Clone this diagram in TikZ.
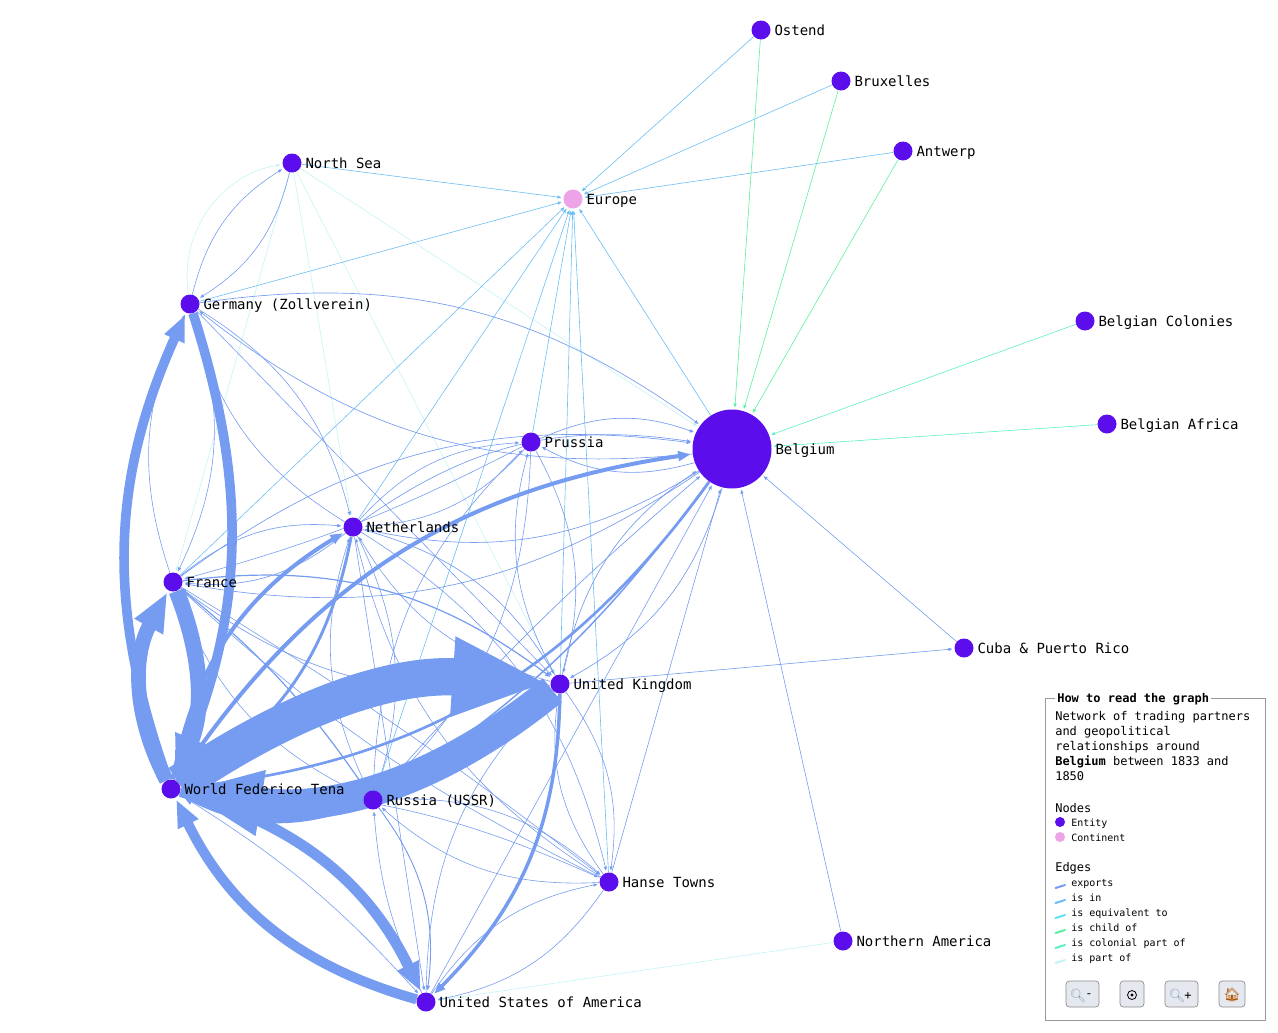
\documentclass[tikz,border=0pt]{standalone}
\usepackage{fontspec}
\setmonofont{DejaVu Sans Mono}
\newfontfamily\emojifont{Noto Emoji}
\usetikzlibrary{arrows.meta}
\pgfdeclarelayer{edges}
\pgfsetlayers{edges,main}
\definecolor{entityc}{HTML}{5B0EEB}
\definecolor{continentc}{HTML}{EDA3E8}
\definecolor{exportc}{HTML}{759CF0}
\definecolor{isinc}{HTML}{6BBEF5}
\definecolor{equivc}{HTML}{5CE5F0}
\definecolor{childc}{HTML}{5CF0A0}
\definecolor{colonialc}{HTML}{5CF0C8}
\definecolor{partc}{HTML}{C5F3F5}
\definecolor{buttonc}{HTML}{E6E8F0}
\definecolor{lensc}{HTML}{8FA5C0}
\tikzset{
  entity/.style={circle,fill=entityc,inner sep=0pt,minimum size=14.25pt},
  nametag/.style={font=\ttfamily\fontsize{10.5}{12}\selectfont,inner sep=0pt,anchor=west,xshift=2.6pt,text height=9.6pt,text depth=1pt},
  trade/.style={draw=#1,-{Triangle[length=1.8pt 2.5,width=1.5pt 1.9]},shorten >=1.5pt},
  legtext/.style={font=\ttfamily\fontsize{9}{11.25}\selectfont,inner sep=0pt,anchor=west},
  legsmall/.style={font=\ttfamily\fontsize{7.5}{9}\selectfont,inner sep=0pt,anchor=mid west},
  legbutton/.style={draw=black!45,fill=buttonc,rounded corners=2.5pt,line width=0.5pt}
}
\begin{document}
\begin{tikzpicture}[x=0.75pt,y=0.75pt,yscale=-1,xscale=1]
  \useasboundingbox (0,0) rectangle (1278,1032);
  % Entities
  \foreach \nm/\px/\py/\txt in {
    ostend/761/30/{Ostend}, bruxelles/841/81/{Bruxelles}, antwerp/903/151/{Antwerp},
    northsea/292/163/{North Sea}, germany/190/304/{Germany (Zollverein)},
    colonies/1085/321/{Belgian Colonies}, africa/1107/424/{Belgian Africa},
    prussia/531/442/{Prussia}, netherlands/353/527/{Netherlands}, france/173/582/{France},
    cuba/964/648/{Cuba \& Puerto Rico}, uk/560/684/{United Kingdom},
    world/171/789/{World Federico Tena}, russia/373/800/{Russia (USSR)},
    hanse/609/882/{Hanse Towns}, namerica/843/941/{Northern America},
    usa/426/1002/{United States of America}}
    {
      \node[entity] (\nm) at (\px,\py) {};
      \node[nametag] (\nm tag) at (\nm.east) {\txt};
    }
  \node[entity,fill=continentc] (europe) at (573,199) {};
  \node[nametag] (europetag) at (europe.east) {Europe};
  \node[entity,minimum size=59.25pt] (belgium) at (732,449) {};
  \node[nametag] (belgiumtag) at (belgium.east) {Belgium};

  \begin{pgfonlayer}{edges}
    % is part of
    \foreach \src/\dst/\bnd in {germany/northsea/45, northsea/france/0, northsea/netherlands/0,
      northsea/uk/0, northsea/belgium/0, namerica/usa/0}
      \draw[trade=partc,line width=0.45pt] (\src) to[bend right=\bnd] (\dst);
    % is in
    \foreach \src in {ostend, bruxelles, antwerp, northsea, germany, france, netherlands,
      prussia, belgium, uk, hanse, russia}
      \draw[trade=isinc,line width=0.45pt] (\src) to (europe);
    % is child of, is colonial part of
    \foreach \src in {ostend, bruxelles, antwerp}
      \draw[trade=childc,line width=0.45pt] (\src) to (belgium);
    \foreach \src in {colonies, africa}
      \draw[trade=colonialc,line width=0.45pt] (\src) to (belgium);
    % exports, thin
    \foreach \src/\dst/\bnd/\wd in {
      germany/belgium/22/0.5, belgium/germany/22/0.5, france/belgium/22/0.5, belgium/france/22/0.5,
      netherlands/belgium/22/0.5, belgium/netherlands/22/0.5, prussia/belgium/22/0.5, belgium/prussia/22/0.5,
      uk/belgium/22/0.5, belgium/uk/22/0.5, russia/belgium/4/0.5, belgium/russia/10/1.1,
      usa/belgium/0/0.45, hanse/belgium/0/0.45, cuba/belgium/0/0.45, namerica/belgium/0/0.45, uk/cuba/0/0.45,
      northsea/germany/22/0.45, germany/northsea/22/0.45, germany/netherlands/22/0.45, netherlands/germany/22/0.45,
      germany/uk/0/0.45, france/germany/22/0.45, germany/france/22/0.45,
      france/netherlands/22/0.5, netherlands/france/22/0.5, prussia/france/6/0.45, france/uk/22/0.9, uk/france/22/0.5,
      france/russia/8/0.9, russia/france/22/0.45, france/hanse/3/0.45, hanse/france/8/0.45,
      netherlands/prussia/22/0.45, prussia/netherlands/22/0.45, netherlands/uk/22/0.5, uk/netherlands/22/0.45,
      netherlands/hanse/22/0.45, hanse/netherlands/22/0.45, netherlands/russia/22/0.45, russia/netherlands/22/0.45,
      netherlands/usa/0/0.45, prussia/uk/22/0.45, uk/prussia/22/0.45, prussia/russia/22/0.45, russia/prussia/22/0.45,
      russia/usa/22/0.7, usa/russia/10/0.45, russia/hanse/22/0.45, hanse/russia/22/0.45,
      uk/hanse/22/0.45, hanse/uk/22/0.45, usa/uk/22/0.45, hanse/usa/22/0.45, usa/hanse/22/0.45,
      world/hanse/12/0.45, world/usa/8/0.45}
      \draw[trade=exportc,line width=\wd pt] (\src) to[bend right=\bnd] (\dst);
    % exports, heavy
    \foreach \src/\dst/\bnd/\wd in {
      world/germany/22/7.2, germany/world/20/7.2, world/france/28/11, france/world/22/12,
      usa/world/24/7.5, world/usa/24/8, russia/world/24/3,
      world/netherlands/24/3, netherlands/world/24/2.2, world/belgium/24/3, belgium/world/24/2,
      uk/usa/22/2.6, world/uk/19/28, uk/world/24/23}
      \draw[trade=exportc,line width=\wd pt] (\src) to[bend right=\bnd] (\dst);
  \end{pgfonlayer}

  % Legend
  \draw[draw=black!40,line width=0.75pt] (1045,698) rectangle (1265,1020);
  \node[legtext,fill=white,font=\ttfamily\bfseries\fontsize{9}{11.25}\selectfont,inner xsep=1.5pt] (legtitle) at (1055,699) {How to read the graph};
  \node[legtext,align=left,anchor=north west] (legintro) at (1055,711) {Network of trading partners\\and geopolitical\\relationships around\\\textbf{Belgium} between 1833 and\\1850};
  \node[legtext] (legnodes) at (1055,808) {Nodes};
  \node[entity,minimum size=7.5pt] (legentity) at (1060,822) {};
  \node[legsmall] (legentitytag) at (1071,823.5) {Entity};
  \node[entity,minimum size=7.5pt,fill=continentc] (legcontinent) at (1060,837) {};
  \node[legsmall] (legcontinenttag) at (1071,838.5) {Continent};
  \node[legtext] (legedges) at (1055,868) {Edges};
  \foreach \py/\cl/\txt in {884/exportc/exports, 899/isinc/is in, 914/equivc/is equivalent to,
    929/childc/is child of, 944/colonialc/is colonial part of, 959/partc/is part of}
    {
      \draw[draw=\cl,line width=1.5pt,line cap=round] (1055.5,\py+4) -- (1065,\py+1);
      \node[legsmall] (leg\py) at (1071,\py) {\txt};
    }
  % Buttons
  \draw[legbutton] (1066,981) rectangle (1099,1007);
  \draw[legbutton] (1120,981) rectangle (1144,1007);
  \draw[legbutton] (1165,981) rectangle (1198,1007);
  \draw[legbutton] (1219,981) rectangle (1245,1007);
  \node[inner sep=0pt,font=\emojifont\fontsize{10}{12}\selectfont,text=lensc] (zoomout) at (1078,996) {🔍};
  \node[inner sep=0pt,font=\ttfamily\fontsize{9}{11}\selectfont] (zoomoutsign) at (1089,996) {-};
  \draw[line width=0.6pt] (1132,995) circle (4.5);
  \fill (1132,995) circle (1.7);
  \node[inner sep=0pt,font=\emojifont\fontsize{10}{12}\selectfont,text=lensc] (zoomin) at (1177,996) {🔍};
  \node[inner sep=0pt,font=\ttfamily\fontsize{9}{11}\selectfont] (zoominsign) at (1188,996) {+};
  \node[inner sep=0pt,font=\emojifont\fontsize{10}{12}\selectfont,text=orange!70!black] (home) at (1232,995) {🏠};
\end{tikzpicture}
\end{document}
